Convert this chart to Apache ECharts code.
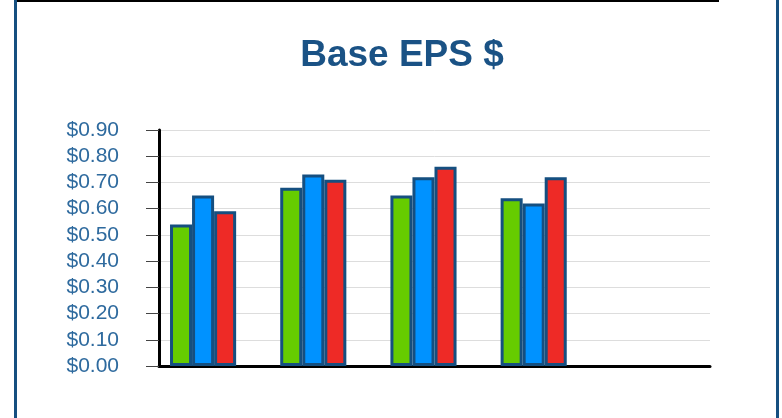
<!DOCTYPE html>
<html>
<head>
<meta charset="utf-8">
<script src="https://cdn.jsdelivr.net/npm/echarts@6/dist/echarts.min.js"></script>
<style>
  html, body { margin: 0; padding: 0; background: #ffffff; }
  #chart { width: 782px; height: 418px; }
</style>
</head>
<body>
<div id="chart"></div>
<script>
// Category slots along the x axis (labels are not shown)
const categories = ['Q1', 'Q2', 'Q3', 'Q4', 'Q5'];

// Base EPS per quarter, one array per year
const seriesGreen = [0.54, 0.68, 0.65, 0.64, null];
const seriesBlue  = [0.65, 0.73, 0.72, 0.62, null];
const seriesRed   = [0.59, 0.71, 0.76, 0.72, null];
const seriesEmpty = [null, null, null, null, null];

const seriesNames = ['Year 1', 'Year 2', 'Year 3', 'Year 4'];
const yTicks = { min: 0, max: 0.9, interval: 0.1 };

const chart = echarts.init(document.getElementById('chart'), null, { renderer: 'canvas' });

const barStyle = (color) => ({
  color: color,
  borderColor: '#154f80',
  borderWidth: 3
});

chart.setOption({
  backgroundColor: '#ffffff',
  animation: false,
  title: {
    text: 'Base EPS $',
    left: 397,
    top: 32,
    textAlign: 'center',
    textStyle: {
      fontFamily: 'Liberation Sans, Arial, sans-serif',
      fontSize: 37,
      fontWeight: 'bold',
      color: '#1a5285'
    }
  },
  grid: { left: 159, right: 72, top: 130, bottom: 52, containLabel: false },
  xAxis: {
    type: 'category',
    data: categories,
    axisLine: { show: true, lineStyle: { color: '#000000', width: 3 } },
    axisTick: { show: false },
    axisLabel: { show: false },
    splitLine: { show: false }
  },
  yAxis: {
    type: 'value',
    min: yTicks.min,
    max: yTicks.max,
    interval: yTicks.interval,
    axisLine: { show: true, lineStyle: { color: '#000000', width: 3 } },
    axisTick: { show: true, length: 13, lineStyle: { color: '#444444', width: 1 } },
    axisLabel: {
      margin: 40,
      fontFamily: 'Liberation Sans, Arial, sans-serif',
      fontSize: 21,
      color: '#2e6a9e',
      formatter: (v) => '$' + v.toFixed(2)
    },
    splitLine: { show: true, lineStyle: { color: '#dddddd', width: 1 } }
  },
  series: [
    { name: seriesNames[0], type: 'bar', data: seriesGreen, barGap: '0%', barCategoryGap: '20%', itemStyle: barStyle('#66cc00') },
    { name: seriesNames[1], type: 'bar', data: seriesBlue, barGap: '0%', barCategoryGap: '20%', itemStyle: barStyle('#0092ff') },
    { name: seriesNames[2], type: 'bar', data: seriesRed, barGap: '0%', barCategoryGap: '20%', itemStyle: barStyle('#ee2a26') },
    { name: seriesNames[3], type: 'bar', data: seriesEmpty, barGap: '0%', barCategoryGap: '20%', itemStyle: barStyle('#ffcc00') }
  ],
  graphic: [
    // page frame: black rule across the top, blue rules down both sides
    { type: 'rect', shape: { x: 14, y: 0, width: 705, height: 2 }, style: { fill: '#000000' }, silent: true },
    { type: 'rect', shape: { x: 14, y: 0, width: 3, height: 418 }, style: { fill: '#154f80' }, silent: true },
    { type: 'rect', shape: { x: 776, y: 0, width: 3, height: 418 }, style: { fill: '#154f80' }, silent: true }
  ]
});
</script>
</body>
</html>
